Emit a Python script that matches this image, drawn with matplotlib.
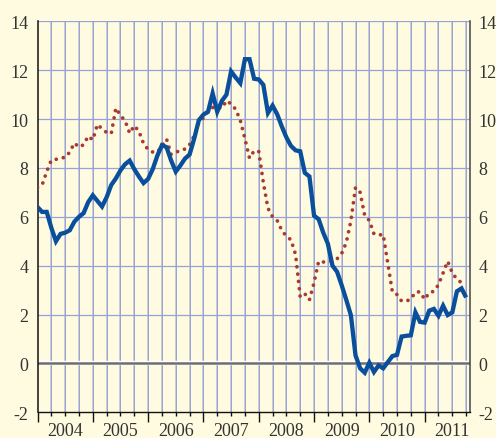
import numpy as np
import pandas as pd
import matplotlib
matplotlib.use("Agg")
import matplotlib.pyplot as plt

# ---- data (monthly, Jan 2004 onward) ----
blue_vals = [6.40, 6.20, 6.20, 5.55, 5.00, 5.30, 5.35, 5.45, 5.80, 6.00,
             6.15, 6.60, 6.88, 6.65, 6.42, 6.80, 7.30, 7.57, 7.90, 8.15,
             8.30, 7.95, 7.65, 7.38, 7.55, 7.95, 8.50, 8.93, 8.85, 8.30,
             7.85, 8.10, 8.38, 8.55, 9.20, 9.95, 10.18, 10.30, 11.05, 10.30,
             10.74, 11.00, 11.95, 11.70, 11.47, 12.45, 12.45, 11.65, 11.62, 11.40,
             10.25, 10.55, 10.20, 9.70, 9.25, 8.90, 8.72, 8.68, 7.80, 7.65,
             6.05, 5.90, 5.35, 4.90, 4.00, 3.75, 3.20, 2.60, 1.97, 0.33,
             -0.20, -0.38, 0.03, -0.35, -0.08, -0.20, 0.05, 0.30, 0.35, 1.10,
             1.13, 1.15, 2.09, 1.70, 1.67, 2.16, 2.23, 1.95, 2.36, 1.98,
             2.09, 2.95, 3.07, 2.70]

red_vals = [7.20, 7.30, 7.85, 8.32, 8.35, 8.42, 8.42, 8.65, 9.02, 8.85,
            8.95, 9.30, 9.15, 9.78, 9.60, 9.45, 9.40, 10.45, 10.15, 9.93,
            9.42, 9.73, 9.50, 9.00, 8.75, 8.65, 8.64, 8.90, 9.18, 8.55,
            8.62, 8.74, 8.77, 8.95, 9.32, 9.85, 10.05, 10.30, 10.47, 10.50,
            10.44, 10.75, 10.62, 10.40, 9.95, 9.20, 8.40, 8.70, 8.68, 7.40,
            6.35, 6.00, 5.85, 5.45, 5.20, 5.06, 4.45, 2.72, 2.85, 2.60,
            3.30, 4.18, 4.15, 4.15, 4.20, 4.28, 4.50, 4.95, 5.84, 7.20,
            7.00, 6.05, 5.85, 5.30, 5.25, 5.28, 4.10, 2.92, 2.82, 2.55,
            2.55, 2.63, 2.92, 2.93, 2.62, 2.90, 2.95, 3.22, 3.70, 4.18,
            3.70, 3.45, 3.30]

blue_dates = pd.date_range("2004-01-01", periods=len(blue_vals), freq="MS")
red_dates = pd.date_range("2004-01-01", periods=len(red_vals), freq="MS")

years = [2004, 2005, 2006, 2007, 2008, 2009, 2010, 2011]
y_ticks = [-2, 0, 2, 4, 6, 8, 10, 12, 14]
y_labels = ["-2", "0", "2", "4", "6", "8", "10", "12", "14"]


def frac_year(dates):
    return np.array([d.year + (d.month - 1) / 12.0 for d in dates])


bx = frac_year(blue_dates)
rx = frac_year(red_dates)

BG = "#FFFBE0"
BLUE = "#0A4F9C"
RED = "#A93A30"
GRID_BLUE = "#95A3DA"
GRID_GREY = "#CACCD2"

fig = plt.figure(figsize=(4.96, 4.39), dpi=100, facecolor=BG)
ax = fig.add_axes([37.5 / 496, 1 - 413.3 / 439, (470 - 37.5) / 496, (413.3 - 22.3) / 439])
ax.set_facecolor(BG)

x0, x1 = 2004.0, 2011.82
ax.set_xlim(x0, x1)
ax.set_ylim(-2, 14)

# grid
quarters = [y + q / 4 for y in range(2004, 2012) for q in range(4)]
for q in quarters:
    if q <= x0 or q >= x1:
        continue
    ax.axvline(q, color=GRID_GREY, lw=1.4, zorder=1)
    ax.axvline(q, color=GRID_BLUE, lw=0.7, zorder=1.1)
for yv in y_ticks:
    if yv in (-2, 0):
        continue
    ax.axhline(yv, color=GRID_BLUE, lw=0.9, zorder=1.2)

# zero line
ax.axhline(0, color="white", lw=3.2, zorder=1.5)
ax.axhline(0, color="#6E6E6E", lw=1.8, zorder=1.6)

# series
ax.plot(rx, red_vals, color=RED, lw=2.7, linestyle=(0, (0.01, 1.95)),
        dash_capstyle="round", solid_capstyle="round", zorder=3)
ax.plot(bx, blue_vals, color=BLUE, lw=3.1, solid_joinstyle="miter",
        solid_capstyle="butt", zorder=4)

# spines
ax.spines["top"].set_visible(False)
ax.spines["left"].set_color("#111111")
ax.spines["left"].set_linewidth(1.1)
ax.spines["right"].set_color("#444444")
ax.spines["right"].set_linewidth(1.1)
ax.spines["bottom"].set_color("#111111")
ax.spines["bottom"].set_linewidth(1.0)

# y ticks
font = dict(family="Liberation Serif", size=13, color="#333333")
ax.set_yticks(y_ticks)
ax.set_yticklabels(y_labels, fontdict=font)
ax.tick_params(axis="y", length=0, left=False, right=False,
               labelleft=True, labelright=True, pad=6.3)

# x ticks: years major (long), quarters minor (short)
ax.set_xticks(years)
ax.set_xticklabels([])
ax.set_xticks([q for q in quarters if q not in years], minor=True)
ax.tick_params(axis="x", which="major", length=7.2, width=1.0, color="#111111", direction="out")
ax.tick_params(axis="x", which="minor", length=3.0, width=1.0, color="#111111", direction="out")

for yr in years:
    ax.annotate(str(yr), xy=(yr + 0.5, 0), xycoords=("data", "axes fraction"),
                xytext=(0, -7.0), textcoords="offset points",
                ha="center", va="top", **font, annotation_clip=False)

fig.savefig("out.png", dpi=100, facecolor=BG)
